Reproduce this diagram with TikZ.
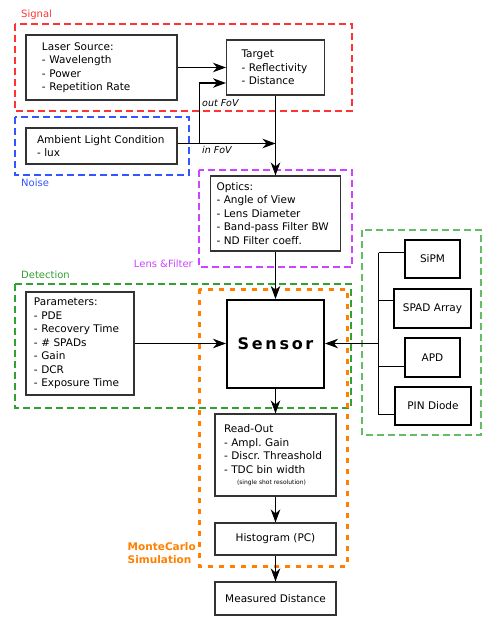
\documentclass[tikz,border=0pt]{standalone}
\usepackage{fontspec}
\setmainfont{DejaVu Sans}
\newfontfamily\sensorfont[LetterSpace=17]{DejaVu Sans}
\usetikzlibrary{arrows.meta}

\definecolor{signalred}{HTML}{FF3333}
\definecolor{noiseblue}{HTML}{3355FF}
\definecolor{lensviolet}{HTML}{CC44FF}
\definecolor{detgreen}{HTML}{33A033}
\definecolor{sensgreen}{HTML}{66BB66}
\definecolor{mcorange}{HTML}{FF8000}

\begin{document}
\begin{tikzpicture}[x=1pt, y=-1pt,
	box/.style={draw=black!80, line width=1.1pt, align=left, inner xsep=0pt, font=\fontsize{10.5}{13.5}\selectfont},
	cbox/.style={draw=black!80, line width=1.1pt, align=center, font=\fontsize{10.5}{13.5}\selectfont},
	heavybox/.style={draw=black, line width=2pt, align=center, font=\fontsize{10.5}{13.5}\selectfont},
	flow/.style={-{Stealth[length=13pt, width=9.5pt, inset=4pt]}, line width=1.1pt},
	wire/.style={line width=1pt},
	frame/.style={dash pattern=on 7pt off 4pt, line width=1.2pt},
	mcframe/.style={dash pattern=on 5pt off 6pt, line width=3pt, draw=mcorange},
	grouplabel/.style={inner sep=0pt, anchor=west, font=\fontsize{10}{12}\selectfont},
	fovlabel/.style={inner sep=0pt, anchor=west, font=\fontsize{9.5}{11}\selectfont\itshape}
]
	\useasboundingbox (0,0) rectangle (488,632);

	% group frames
	\draw[frame, draw=signalred] (15,24) rectangle (352,111);
	\draw[frame, draw=noiseblue] (15,117) rectangle (189,175);
	\draw[frame, draw=lensviolet] (199,170) rectangle (352,267);
	\draw[frame, draw=detgreen] (15,284) rectangle (351,408);
	\draw[frame, draw=sensgreen] (362,230) rectangle (481,435);
	\draw[mcframe] (199,289) rectangle (347,566);

	\node[grouplabel, text=signalred] (signallbl) at (21,15) {Signal};
	\node[grouplabel, text=noiseblue] (noiselbl) at (21,183) {Noise};
	\node[grouplabel, text=lensviolet, anchor=east] (lenslbl) at (193,264) {Lens \&Filter};
	\node[grouplabel, text=detgreen] (detlbl) at (21,275) {Detection};
	\node[grouplabel, text=mcorange, anchor=east, align=left, font=\fontsize{10.5}{13}\selectfont\bfseries] (mclbl) at (196,553) {MonteCarlo\\Simulation};

	% blocks
	\node[box, text width=151pt, minimum height=65pt] (laser) at (101.5,67.5) {\leftskip=16pt Laser Source:\\- Wavelength\\- Power\\- Repetition Rate\par};
	\node[box, text width=98pt, minimum height=55pt] (target) at (275.5,67.5) {\leftskip=15pt Target\\- Reflectivity\\- Distance\par};
	\node[box, text width=151pt, minimum height=36pt] (ambient) at (101.5,146) {\leftskip=11pt Ambient Light Condition\\- lux\par};
	\node[box, text width=130pt, minimum height=75pt] (optics) at (275.5,213.5) {\leftskip=6pt Optics:\\- Angle of View\\- Lens Diameter\\- Band-pass Filter BW\\- ND Filter coeff.\par};
	\node[box, text width=108pt, minimum height=103pt] (params) at (80,343.5) {\leftskip=8pt Parameters:\\- PDE\\- Recovery Time\\- \# SPADs\\- Gain\\- DCR\\- Exposure Time\par};
	\node[heavybox, minimum width=97pt, minimum height=88pt, font=\fontsize{16}{19}\sensorfont\bfseries] (sensor) at (275.5,344) {Sensor};
	\node[box, text width=121pt, minimum height=82pt] (readout) at (275.5,455) {\leftskip=9pt Read-Out\\- Ampl.\ Gain\\- Discr.\ Threashold\\- TDC bin width\\[-2.5pt]\hspace*{13pt}{\fontsize{6}{7}\selectfont\spaceskip=0pt (single shot resolution)}\par};
	\node[cbox, minimum width=121pt, minimum height=32pt] (histo) at (275.5,539) {Histogram (PC)};
	\node[cbox, minimum width=121pt, minimum height=33pt] (measured) at (275.5,598.5) {Measured Distance};

	\node[heavybox, minimum width=55pt, minimum height=38pt] (sipm) at (432.5,259) {SiPM};
	\node[heavybox, minimum width=77pt, minimum height=39pt] (spad) at (432.5,308.5) {SPAD Array};
	\node[heavybox, minimum width=55pt, minimum height=39pt] (apd) at (432.5,357.5) {APD};
	\node[heavybox, minimum width=76pt, minimum height=38pt] (pin) at (433,406) {PIN Diode};

	% signal and noise paths
	\coordinate (split) at (199.5,143.5);
	\coordinate (infov) at (275.5,143.5);
	\draw[flow] (laser.east) -- (laser.east -| target.west);
	\draw[flow] (ambient.east |- infov) -- (infov);
	\draw[flow] (split) |- ([yshift=-15.5pt]target.west);
	\node[fovlabel] (outlbl) at (202,103) {out FoV};
	\node[fovlabel] (inlbl) at (202,150) {in FoV};
	\draw[flow] (target.south) -- (optics.north);
	\draw[flow] (optics.south) -- (sensor.north);
	\draw[flow] (params.east) -- (params.east -| sensor.west);

	% sensor types
	\coordinate (tap1) at (378.5,252.5);
	\coordinate (tap2) at (378.5,300.5);
	\coordinate (tap3) at (378.5,366.5);
	\coordinate (tap4) at (378.5,414.5);
	\coordinate (bus) at (378.5,343.5);
	\draw[wire] (tap1) -- (tap4);
	\foreach \t/\n in {1/sipm,2/spad,3/apd,4/pin}
		\draw[wire] (tap\t) -- (tap\t -| \n.west);
	\draw[flow] (bus) -- (bus -| sensor.east);

	% processing chain
	\draw[flow] (sensor.south) -- (readout.north);
	\draw[flow] (readout.south) -- (histo.north);
	\draw[flow] (histo.south) -- (measured.north);
\end{tikzpicture}
\end{document}
